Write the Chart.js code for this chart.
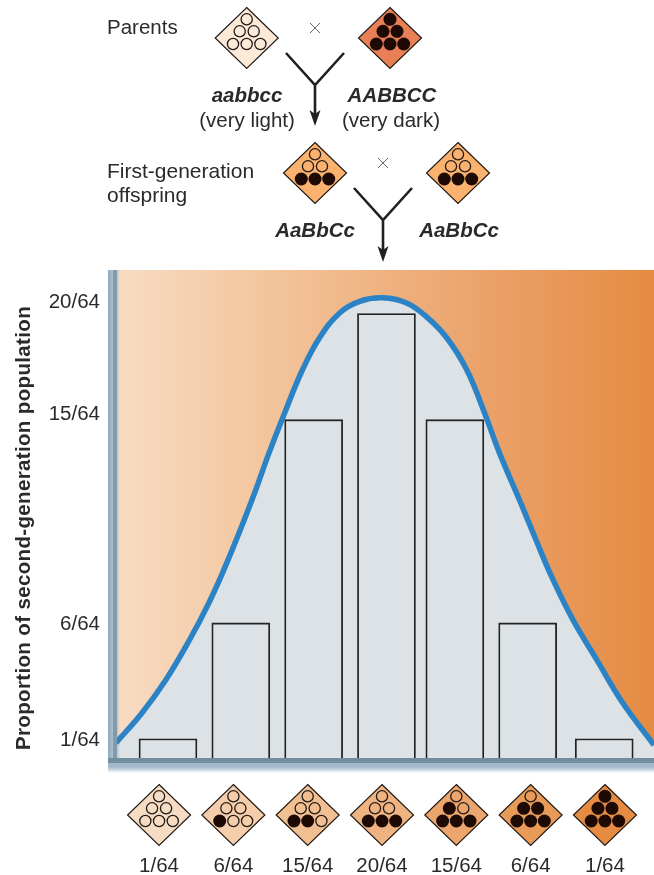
<!DOCTYPE html>
<html>
<head>
<meta charset="utf-8">
<title>Proportion of second-generation population</title>
<script src="https://cdn.jsdelivr.net/npm/chart.js@4"></script>
<style>
  html, body { margin: 0; padding: 0; background: #fff; }
  canvas { display: block; }
</style>
</head>
<body>
<canvas id="myChart" width="654" height="875"></canvas>
<script>
// second generation classes, class number = how many dark alleles
var classLabels = ['1/64', '6/64', '15/64', '20/64', '15/64', '6/64', '1/64'];
var classTicks = [0, 1, 2, 3, 4, 5, 6];
var darkAlleles = [0, 1, 2, 3, 4, 5, 6];
var classColors = ['#f7dcc4', '#f5cdaa', '#f2bf92', '#efb382', '#eba56d', '#e89a58', '#e58b42'];

// bars as drawn in the picture (in 64ths)
var barPositions = [0.12, 1.10, 2.08, 3.06, 3.98, 4.96, 5.99];
var barValues = [1, 5.99, 14.75, 19.32, 14.75, 5.99, 1];

// y axis
var yTickValues = [0.92, 5.92, 15, 19.8];
var yTickLabels = ['1/64', '6/64', '15/64', '20/64'];

// blue curve
var curveX = [-0.58, -0.23, 0.09, 0.40, 0.67, 0.90, 1.25, 1.48, 1.69, 1.93, 2.16, 2.43, 2.70,
  3.01, 3.33, 3.60, 3.87, 4.14, 4.38, 4.58, 4.85, 5.06, 5.29, 5.57, 5.89, 6.24, 6.66];
var curveY = [0.82, 2.11, 3.53, 5.20, 6.85, 8.49, 11.29, 13.32, 15.04, 16.90, 18.28, 19.35, 19.85,
  20.0, 19.78, 19.18, 18.28, 16.90, 15.04, 13.32, 11.29, 9.66, 7.93, 6.12, 4.40, 2.54, 0.73];

var FONT = '"Liberation Sans", Arial, sans-serif';
var INK = '#2b2a2a';

// circles inside a diamond, filled in this order
var dots = [[-13.7, 6], [0, 6], [13.7, 6], [-7, -6.7], [7, -6.7], [0, -18.7]];

function diamond(ctx, cx, cy, fill, dark) {
  ctx.beginPath();
  ctx.moveTo(cx, cy - 30.5);
  ctx.lineTo(cx + 31.5, cy);
  ctx.lineTo(cx, cy + 30.5);
  ctx.lineTo(cx - 31.5, cy);
  ctx.closePath();
  ctx.fillStyle = fill;
  ctx.fill();
  ctx.lineWidth = 1.2;
  ctx.strokeStyle = '#1f1a17';
  ctx.stroke();
  for (var i = 0; i < dots.length; i++) {
    ctx.beginPath();
    ctx.arc(cx + dots[i][0], cy + dots[i][1], i < dark ? 6.5 : 5.6, 0, Math.PI * 2);
    if (i < dark) {
      ctx.fillStyle = '#1d0a05';
      ctx.fill();
    } else {
      ctx.lineWidth = 1.3;
      ctx.strokeStyle = '#1f1a17';
      ctx.stroke();
    }
  }
}

function crossMark(ctx, cx, cy) {
  ctx.beginPath();
  ctx.moveTo(cx - 5, cy - 5);
  ctx.lineTo(cx + 5, cy + 5);
  ctx.moveTo(cx + 5, cy - 5);
  ctx.lineTo(cx - 5, cy + 5);
  ctx.lineWidth = 0.9;
  ctx.strokeStyle = '#555';
  ctx.stroke();
}

function forkArrow(ctx, cx, top, join, tip) {
  ctx.beginPath();
  ctx.moveTo(cx - 29, top);
  ctx.lineTo(cx, join);
  ctx.lineTo(cx + 29, top);
  ctx.moveTo(cx, join);
  ctx.lineTo(cx, tip - 8);
  ctx.lineWidth = 2.6;
  ctx.strokeStyle = '#231f20';
  ctx.stroke();
  ctx.beginPath();
  ctx.moveTo(cx, tip);
  ctx.lineTo(cx - 5.5, tip - 16);
  ctx.lineTo(cx, tip - 12);
  ctx.lineTo(cx + 5.5, tip - 16);
  ctx.closePath();
  ctx.fillStyle = '#231f20';
  ctx.fill();
}

function label(ctx, text, x, y, font, align) {
  ctx.font = font + ' ' + FONT;
  ctx.fillStyle = INK;
  ctx.textAlign = align || 'left';
  ctx.textBaseline = 'alphabetic';
  ctx.fillText(text, x, y);
}

// gradient behind the plot
var backdrop = {
  id: 'backdrop',
  beforeDatasetsDraw: function (chart) {
    var ctx = chart.ctx, a = chart.chartArea;
    var g = ctx.createLinearGradient(a.left, 0, a.right, 0);
    g.addColorStop(0, '#f7dcc4');
    g.addColorStop(0.29, '#f3c49b');
    g.addColorStop(0.72, '#ea9f65');
    g.addColorStop(1, '#e58b42');
    ctx.save();
    ctx.fillStyle = g;
    ctx.fillRect(a.left, a.top, a.right - a.left, a.bottom - a.top);
    ctx.restore();
  }
};

// frame, cross diagram, diamonds under the axis
var extras = {
  id: 'extras',
  afterDraw: function (chart) {
    var ctx = chart.ctx, a = chart.chartArea, x = chart.scales.x;
    ctx.save();

    // left band
    var lg = ctx.createLinearGradient(108, 0, 117, 0);
    lg.addColorStop(0, '#8eaaba');
    lg.addColorStop(0.5, '#a9bfcd');
    lg.addColorStop(0.6, '#7f9bac');
    lg.addColorStop(1, '#7f9bac');
    ctx.fillStyle = lg;
    ctx.fillRect(108, a.top, 9, a.bottom - a.top + 9);
    var ls = ctx.createLinearGradient(117, 0, 120, 0);
    ls.addColorStop(0, 'rgba(110,130,140,0.3)');
    ls.addColorStop(1, 'rgba(110,130,140,0)');
    ctx.fillStyle = ls;
    ctx.fillRect(117, a.top, 3, a.bottom - a.top);

    // bottom band
    var bg = ctx.createLinearGradient(0, a.bottom, 0, a.bottom + 15);
    bg.addColorStop(0, '#6f8e9e');
    bg.addColorStop(0.33, '#6f8e9e');
    bg.addColorStop(0.36, '#a3b8c9');
    bg.addColorStop(0.6, '#a3b8c9');
    bg.addColorStop(1, '#ffffff');
    ctx.fillStyle = bg;
    ctx.fillRect(108, a.bottom, a.right - 108, 15);

    // diamonds above the class labels
    for (var i = 0; i < classTicks.length; i++) {
      diamond(ctx, x.getPixelForValue(classTicks[i]), 815, classColors[i], darkAlleles[i]);
    }

    // the cross
    diamond(ctx, 246.7, 38, '#fde9d8', 0);
    diamond(ctx, 390, 38, '#e98055', 6);
    diamond(ctx, 315, 173, '#fbb26e', 3);
    diamond(ctx, 458, 173, '#fbb26e', 3);
    crossMark(ctx, 315, 28);
    crossMark(ctx, 383, 163);
    forkArrow(ctx, 315, 53, 85, 126);
    forkArrow(ctx, 383, 188, 220, 262);

    label(ctx, 'Parents', 107, 34, '20.5px');
    label(ctx, 'First-generation', 107, 178, '21px');
    label(ctx, 'offspring', 107, 202, '21px');
    label(ctx, 'aabbcc', 247, 102, 'italic bold 20.5px', 'center');
    label(ctx, '(very light)', 247, 127, '20.5px', 'center');
    label(ctx, 'AABBCC', 392, 102, 'italic bold 20.5px', 'center');
    label(ctx, '(very dark)', 391, 127, '20.5px', 'center');
    label(ctx, 'AaBbCc', 315, 237, 'italic bold 20.5px', 'center');
    label(ctx, 'AaBbCc', 459, 237, 'italic bold 20.5px', 'center');

    // y axis title
    ctx.translate(30, 528);
    ctx.rotate(-Math.PI / 2);
    ctx.letterSpacing = '0.35px';
    label(ctx, 'Proportion of second-generation population', 0, 0, 'bold 20.5px', 'center');
    ctx.restore();
  }
};

var ctx = document.getElementById('myChart').getContext('2d');
var myChart = new Chart(ctx, {
  type: 'bar',
  data: {
    datasets: [{
      type: 'bar',
      order: 1,
      data: barPositions.map(function (p, i) { return { x: p, y: barValues[i] }; }),
      backgroundColor: '#dce2e5',
      borderColor: '#222',
      borderWidth: 1.8,
      barThickness: 58
    }, {
      type: 'line',
      order: 2,
      data: curveX.map(function (p, i) { return { x: p, y: curveY[i] }; }),
      borderColor: '#2b83c6',
      borderWidth: 5.5,
      backgroundColor: '#dce2e5',
      fill: 'start',
      pointRadius: 0,
      tension: 0.4,
      clip: 0
    }]
  },
  plugins: [backdrop, extras],
  options: {
    responsive: false,
    animation: false,
    layout: { padding: { top: 270 } },
    plugins: { legend: { display: false }, tooltip: { enabled: false } },
    scales: {
      x: {
        type: 'linear',
        offset: false, // bar charts turn this on by default
        min: -0.566,
        max: 6.66,
        // long invisible ticks leave room for the diamonds
        grid: { offset: false, drawOnChartArea: false, drawTicks: true, tickLength: 96, tickColor: 'transparent' },
        border: { display: false },
        afterFit: function (scale) { scale.height = 117; },
        afterBuildTicks: function (axis) {
          axis.ticks = classTicks.map(function (v) { return { value: v }; });
        },
        ticks: {
          autoSkip: false,
          maxRotation: 0,
          padding: 0,
          color: INK,
          font: { family: FONT, size: 20.5 },
          callback: function (value) { return classLabels[classTicks.indexOf(value)]; }
        }
      },
      y: {
        type: 'linear',
        min: 0.17,
        max: 21.2,
        grid: { display: false, drawTicks: false },
        border: { display: false },
        afterFit: function (scale) { scale.width = 117; },
        afterBuildTicks: function (axis) {
          axis.ticks = yTickValues.map(function (v) { return { value: v }; });
        },
        ticks: {
          autoSkip: false,
          padding: 17,
          color: INK,
          font: { family: FONT, size: 20.5 },
          callback: function (value) { return yTickLabels[yTickValues.indexOf(value)]; }
        }
      }
    }
  }
});
</script>
</body>
</html>
